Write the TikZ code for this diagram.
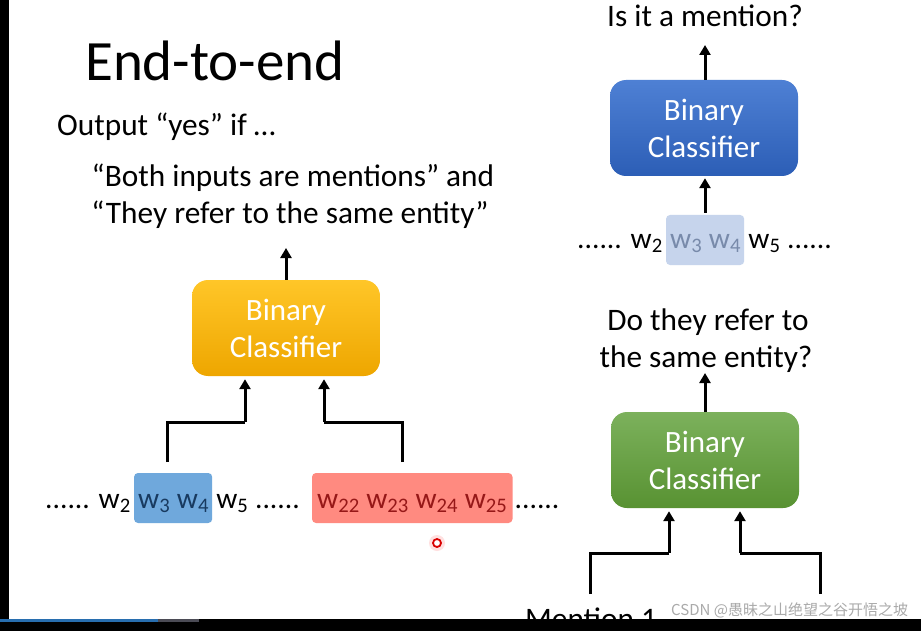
\documentclass[tikz,border=0pt]{standalone}
\usepackage{fontspec}
\setmainfont{Carlito}
\newfontfamily\cjkfont{Noto Sans CJK SC}
\usetikzlibrary{arrows.meta}
\pgfdeclarelayer{bg}
\pgfdeclarelayer{hl}
\pgfsetlayers{bg,hl,main}
\definecolor{orTop}{RGB}{255,198,40}
\definecolor{orBot}{RGB}{238,166,0}
\definecolor{blTop}{RGB}{78,128,212}
\definecolor{blBot}{RGB}{44,94,182}
\definecolor{grTop}{RGB}{124,177,92}
\definecolor{grBot}{RGB}{88,146,50}
\definecolor{hlBlue}{RGB}{111,168,220}
\definecolor{hlRed}{RGB}{255,138,128}
\definecolor{hlPale}{RGB}{198,212,236}
\definecolor{navyTxt}{RGB}{24,58,96}
\definecolor{redTxt}{RGB}{150,24,24}
\definecolor{paleTxt}{RGB}{120,138,170}
\definecolor{barBlue}{RGB}{40,110,175}
\definecolor{barGray}{RGB}{75,75,85}
\definecolor{wmGray}{RGB}{170,170,170}
\newcommand\wsub[1]{w\textsubscript{#1}}
\begin{document}
\begin{tikzpicture}[x=1pt,y=-1pt,
  txt/.style={inner sep=0pt, font=\fontsize{31.3}{37}\selectfont},
  wrd/.style={inner sep=0pt, font=\fontsize{29.5}{35}\selectfont},
  clsbox/.style={rounded corners=16pt, minimum width=188pt, minimum height=96pt,
    align=center, text=white, font=\fontsize{31}{37}\selectfont, inner sep=0pt},
  arr/.style={line width=3pt, -{Triangle[width=11pt,length=10pt]}},
  seg/.style={line width=3pt}]
\useasboundingbox (0,0) rectangle (921,631);
\begin{pgfonlayer}{bg}
\fill[white] (0,0) rectangle (921,631);
\end{pgfonlayer}

% ---------- left part ----------
\node[anchor=base west, inner sep=0pt, font=\fontsize{57}{60}\selectfont] (title) at (85,81) {End-to-end};
\node[txt, anchor=base west] (outp) at (57,136) {Output “yes” if …};
\node[txt, anchor=base] (cond1) at (293,187) {“Both inputs are mentions” and};
\node[txt, anchor=base] (cond2) at (290,224) {“They refer to the same entity”};

\node[clsbox, top color=orTop, bottom color=orBot] (ob) at (286,328) {Binary\\Classifier};
\coordinate (oOut) at (286,248);
\draw[arr] (ob.north) -- (oOut);

\node[wrd, anchor=base west] (la) at (45,508) {...... \wsub{2}};
\node[wrd, anchor=base west, text=navyTxt] (lb) at ([xshift=7pt]la.base east) {\wsub{3} \wsub{4}};
\node[wrd, anchor=base west] (lc) at ([xshift=7pt]lb.base east) {\wsub{5} ......};
\node[wrd, anchor=base west, text=redTxt] (ld) at ([xshift=17pt]lc.base east) {\wsub{22} \wsub{23} \wsub{24} \wsub{25}};
\node[wrd, anchor=base west] (le) at ([xshift=7pt]ld.base east) {......};
\begin{pgfonlayer}{hl}
\fill[hlBlue, rounded corners=4pt] ([shift={(-4,-35)}]lb.base west) rectangle ([shift={(3,15)}]lb.base east);
\fill[hlRed, rounded corners=4pt] ([shift={(-5,-35)}]ld.base west) rectangle ([shift={(5,15)}]ld.base east);
\fill[red!12] (437,543) circle (8);
\end{pgfonlayer}
\node[circle, draw=red!85!black, fill=white, line width=1.8pt, minimum size=8pt, inner sep=0pt] (cursor) at (437,543) {};

\coordinate (s1) at (167,462);
\coordinate (j1) at (245,422);
\coordinate (s2) at (402,462);
\coordinate (j2) at (324,422);
\draw[seg] (s1) |- (j1);
\draw[arr, shorten >=3pt] (j1) -- (j1 |- ob.south);
\draw[seg] (s2) |- (j2);
\draw[arr, shorten >=3pt] (j2) -- (j2 |- ob.south);

% ---------- right top ----------
\node[txt, anchor=base] (q1) at (705,27) {Is it a mention?};
\node[clsbox, top color=blTop, bottom color=blBot] (bb) at (704,128) {Binary\\Classifier};
\coordinate (bOut) at (705,45);
\draw[arr] (bb.north -| bOut) -- (bOut);

\node[wrd, anchor=base west] (ra) at (577,248) {...... \wsub{2}};
\node[wrd, anchor=base west, text=paleTxt] (rb) at ([xshift=7pt]ra.base east) {\wsub{3} \wsub{4}};
\node[wrd, anchor=base west] (rc) at ([xshift=7pt]rb.base east) {\wsub{5} ......};
\begin{pgfonlayer}{hl}
\fill[hlPale, rounded corners=4pt] ([shift={(-4,-33)}]rb.base west) rectangle ([shift={(3,17)}]rb.base east);
\end{pgfonlayer}
\coordinate (rIn) at (705,213);
\draw[arr, shorten >=2pt] (rIn) -- (rIn |- bb.south);

% ---------- right bottom ----------
\node[txt, anchor=base] (q2a) at (708,330) {Do they refer to};
\node[txt, anchor=base] (q2b) at (706,367) {the same entity?};
\node[clsbox, top color=grTop, bottom color=grBot] (gb) at (705,460) {Binary\\Classifier};
\coordinate (gOut) at (705,373);
\draw[arr] (gb.north) -- (gOut);

\coordinate (m1) at (590,594);
\coordinate (k1) at (669,553);
\coordinate (m2) at (820,594);
\coordinate (k2) at (740,553);
\draw[seg] (m1) |- (k1);
\draw[arr, shorten >=3pt] (k1) -- (k1 |- gb.south);
\draw[seg] (m2) |- (k2);
\draw[arr, shorten >=3pt] (k2) -- (k2 |- gb.south);

\node[txt, anchor=base west] (men1) at (525,629) {Mention 1};
\node[anchor=base west, inner sep=0pt, text=wmGray, font=\cjkfont\fontsize{15}{18}\selectfont] (wm) at (671,615) {CSDN @愚昧之山绝望之谷开悟之坡};

% ---------- frame bars ----------
\fill[black] (0,0) rectangle (9,619);
\fill[black] (0,619) rectangle (921,631);
\fill[barBlue] (0,619) rectangle (158,622);
\fill[barGray] (158,619) rectangle (199,622);
\end{tikzpicture}
\end{document}
